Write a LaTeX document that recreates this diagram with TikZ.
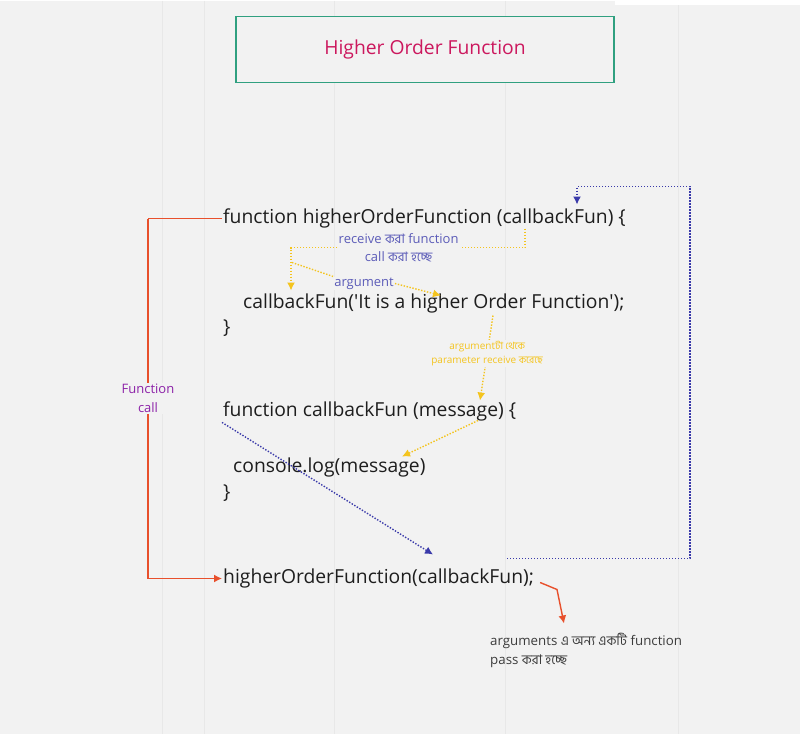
\documentclass[tikz,border=0pt]{standalone}
\usepackage{fontspec}
\setmainfont{Open Sans}
\newfontfamily\bnfont[Script=Bengali]{Hind Siliguri}
\newcommand{\bn}[1]{{\bnfont #1}}
\usetikzlibrary{arrows.meta,positioning}
\definecolor{boardbg}{RGB}{242,242,242}
\definecolor{gridline}{RGB}{232,232,232}
\definecolor{codeink}{RGB}{30,30,30}
\definecolor{titlegreen}{RGB}{48,160,128}
\definecolor{titlered}{RGB}{204,24,94}
\definecolor{callred}{RGB}{232,80,44}
\definecolor{callpurple}{RGB}{140,34,168}
\definecolor{flowblue}{RGB}{58,58,170}
\definecolor{notepurple}{RGB}{92,92,184}
\definecolor{flowyellow}{RGB}{244,196,30}
\definecolor{notegray}{RGB}{60,60,60}

\begin{document}
\begin{tikzpicture}[x=1pt,y=-1pt,>={Latex[length=8pt,width=8pt]},
  codeline/.style={anchor=west,inner sep=1pt,text=codeink,font=\fontsize{19.3}{23}\selectfont},
  blueflow/.style={->,flowblue,dash pattern=on 1.4pt off 1.6pt,line width=1.4pt},
  yellowflow/.style={->,flowyellow,dash pattern=on 1.4pt off 1.6pt,line width=1.4pt},
  redflow/.style={->,callred,line width=1.4pt},
  notetext/.style={text=notepurple,font=\fontsize{13}{18}\selectfont,align=center,fill=boardbg,inner sep=1pt}]
  % board
  \fill[boardbg] (0,0) rectangle (800,733);
  \foreach \gx in {162,204,334,505,678}
    \draw[gridline,line width=1pt] (\gx,0) -- (\gx,733);
  \fill[white] (615,0) rectangle (800,4);

  % title
  \node[draw=titlegreen,line width=1.6pt,fill=boardbg,minimum width=378pt,minimum height=66pt,
    text=titlered,font=\fontsize{19.3}{23}\selectfont] (title) at (425,49) {Higher Order Function};

  % code
  \node[codeline] (hofdef) at (222,218) {function higherOrderFunction (callbackFun) \{};
  \node[codeline] (cbcall) at (242,303) {callbackFun(\textquotesingle It is a higher Order Function\textquotesingle);};
  \node[codeline] (hofclose) at (222,328) {\}};
  \node[codeline] (cbdef) at (222,411) {function callbackFun (message) \{};
  \node[codeline] (logline) at (232,467) {console.log(message)};
  \node[codeline] (cbclose) at (222,493) {\}};
  \node[codeline] (hofcall) at (222,578) {higherOrderFunction(callbackFun);};

  % notes
  \node[anchor=north west,align=left,text=notegray,inner sep=0pt,
    font=\fontsize{13.3}{19}\selectfont] (passnote) at (490,632)
    {arguments \bn{এ অন্য একটি} function\\pass \bn{করা হচ্ছে}};
  \node[notetext] (arglabel) at (364,283) {argument};

  % turning points
  \coordinate (leftbend) at (148,218);
  \coordinate (loopstart) at (507,558);
  \coordinate (loopend) at (577,204);
  \coordinate (passin) at (433,554);
  \coordinate (recvtop) at (525,228);
  \coordinate (recvtip) at (291,290);
  \coordinate (argfrom) at (292,262);
  \coordinate (argto) at (441,295);
  \coordinate (paramfrom) at (493,315);
  \coordinate (paramto) at (480,400);
  \coordinate (msgfrom) at (478,420);
  \coordinate (msgto) at (402,456);
  \coordinate (passbend) at (557,589);
  \coordinate (passtip) at (564,623);

  % function call
  \draw[redflow,-] (hofdef.west) -- (leftbend);
  \draw[redflow] (leftbend) |- node[pos=0.25,fill=boardbg,text=callpurple,align=center,inner sep=1pt,
    font=\fontsize{13}{19}\selectfont] (calllabel) {Function\\call} (hofcall.west);

  % callback passed in
  \draw[blueflow] (loopstart) -| (690,186) -| (loopend);
  \draw[blueflow] (cbdef.south west) -- (passin);

  % argument flow
  \draw[yellowflow] (recvtop) |- node[notetext,pos=0.77] (recvlabel)
    {receive \bn{করা} function\\call \bn{করা হচ্ছে}} (291,247) -- (recvtip);
  \draw[yellowflow,-] (argfrom) -- (arglabel.north west);
  \draw[yellowflow] (arglabel.east) -- (argto);
  \draw[yellowflow] (paramfrom) -- node[fill=boardbg,text=flowyellow,align=center,inner sep=1pt,
    font=\fontsize{10}{14}\selectfont,pos=0.45] (paramlabel)
    {argument\bn{টা থেকে}\\parameter receive \bn{করেছে}} (paramto);
  \draw[yellowflow] (msgfrom) -- (msgto);

  % note arrow
  \draw[redflow] ([xshift=5pt,yshift=-4pt]hofcall.east) -- (passbend) -- (passtip);
\end{tikzpicture}
\end{document}
